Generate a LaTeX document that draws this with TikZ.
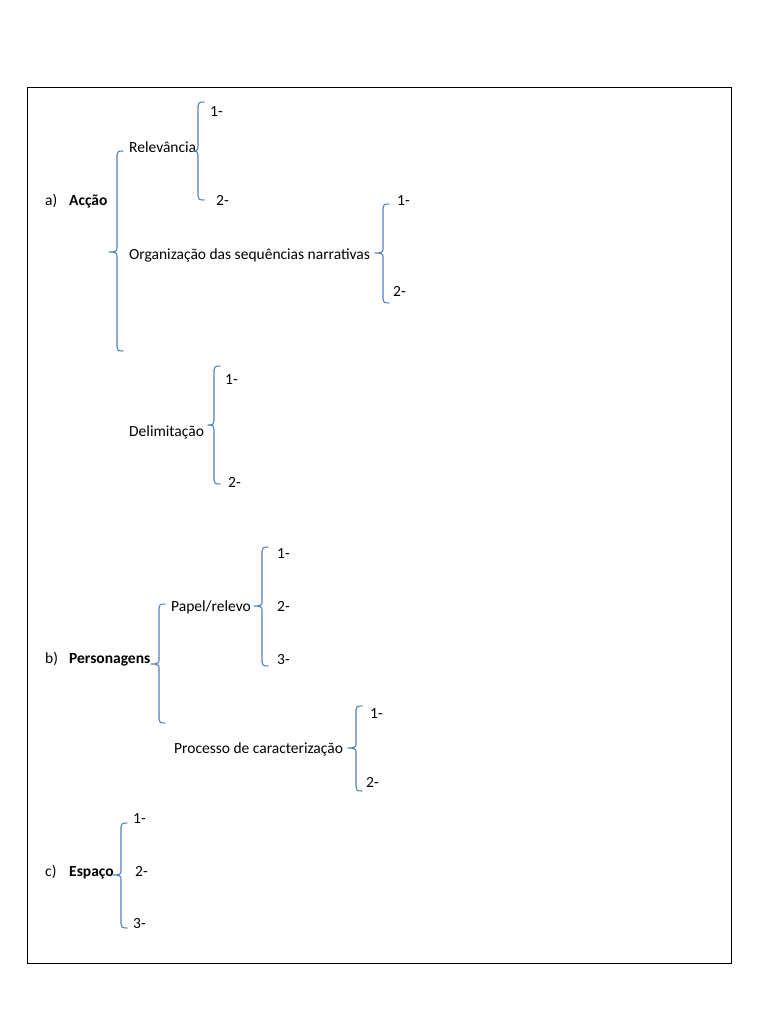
\documentclass[tikz,border=0pt]{standalone}
\usepackage{fontspec}
\setmainfont{Carlito}
\definecolor{wordblue}{HTML}{4F81BD}
\newcommand\wbrace[5]{%
\draw[bracestyle] (#1+6,#2) .. controls (#1+1,#2) and (#1,#2+1) .. (#1,#2+4) -- (#1,#3-4) .. controls (#1,#3-1) and (#1-1,#3) .. (#5,#3) .. controls (#1-1,#3) and (#1,#3+1) .. (#1,#3+4) -- (#1,#4-4) .. controls (#1,#4-1) and (#1+1,#4) .. (#1+6,#4);}
\tikzset{
  bracestyle/.style={draw=wordblue, line width=1.1pt, line join=round, line cap=round},
  txt/.style={anchor=base west, inner sep=0pt, font=\fontsize{15.5}{18}\selectfont},
  bold/.style={txt, font=\fontsize{15.5}{18}\selectfont\bfseries},
}
\begin{document}
\begin{tikzpicture}[x=1pt,y=-1pt]
\useasboundingbox (0,0) rectangle (768,1024);
\fill[white] (0,0) rectangle (768,1024);
\draw[black, line width=0.9pt] (27,87) rectangle (731,963);
% a) Acção
\node[txt] (la) at (45,206) {a)};
\node[bold] (accao) at (69,206) {Acção};
\wbrace{117}{151}{252}{351}{109}
\node[txt] (relev) at (129,153) {Relevância};
\wbrace{198}{102}{151}{200}{194}
\node[txt] (r1) at (210,117) {1-};
\node[txt] (r2) at (216,206) {2-};
\node[txt] (org) at (129,259) {Organização das sequências narrativas};
\wbrace{383}{204}{253}{303}{375}
\node[txt] (o1) at (397,206) {1-};
\node[txt] (o2) at (393,296) {2-};
\node[txt] (delim) at (129,436) {Delimitação};
\wbrace{214}{366}{425}{484}{208}
\node[txt] (d1) at (225,384) {1-};
\node[txt] (d2) at (228,487) {2-};
% b) Personagens
\node[txt] (lb) at (45,663) {b)};
\node[bold] (pers) at (69,663) {Personagens};
\wbrace{159}{604}{664}{723}{151}
\node[txt] (papel) at (171,611) {Papel/relevo};
\wbrace{262}{547}{606}{666}{254}
\node[txt] (p1) at (277,558) {1-};
\node[txt] (p2) at (277,611) {2-};
\node[txt] (p3) at (277,664) {3-};
\node[txt] (proc) at (174,753) {Processo de caracterização};
\wbrace{356}{706}{748}{791}{348}
\node[txt] (c1) at (370,718) {1-};
\node[txt] (c2) at (366,787) {2-};
% c) Espaço
\node[txt] (lc) at (45,876) {c)};
\node[bold] (esp) at (69,876) {Espaço};
\wbrace{121}{823}{875}{928}{113}
\node[txt] (e1) at (133,823) {1-};
\node[txt] (e2) at (135,876) {2-};
\node[txt] (e3) at (133,928) {3-};
\end{tikzpicture}
\end{document}
